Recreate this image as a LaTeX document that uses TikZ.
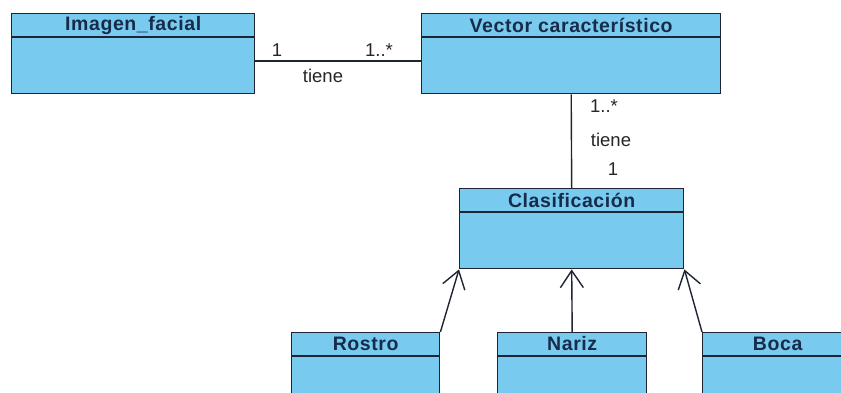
\documentclass[tikz,border=0pt]{standalone}
\usepackage{fontspec}
\setmainfont{Liberation Sans}
\newfontfamily\klassfont[LetterSpace=3]{Liberation Sans}
\usetikzlibrary{arrows.meta, calc, positioning}
\definecolor{klassblau}{HTML}{78CBEF}
\definecolor{rahmen}{HTML}{1E2433}
\definecolor{titelblau}{HTML}{172B4A}

\begin{document}
\begin{tikzpicture}[
    x=1pt, y=-1pt,
    every node/.style={font=\fontsize{18.5}{20}\selectfont, text=black!85},
    klasse/.style={draw=rahmen, fill=klassblau, line width=1.4pt, rectangle,
                   anchor=north west, inner sep=0pt, minimum height=80pt},
    titel/.style={font=\klassfont\fontsize{19.5}{21}\selectfont\bfseries, text=titelblau},
    verbindung/.style={line width=1.4pt, draw=rahmen},
    erbt/.style={verbindung, -{Straight Barb[length=17pt, width=23pt]}},
  ]
  \clip (0,0) rectangle (841,392);

  % Klassen
  \node[klasse, minimum width=243pt] (img)    at (11,13)  {};
  \node[klasse, minimum width=299pt] (vec)    at (421,13) {};
  \node[klasse, minimum width=224pt] (kla)    at (459,188) {};
  \node[klasse, minimum width=148pt] (rostro) at (291,332) {};
  \node[klasse, minimum width=149pt] (nariz)  at (497,332) {};
  \node[klasse, minimum width=150pt] (boca)   at (702,332) {};

  \foreach \k in {img,vec,kla,rostro,nariz,boca}
    \draw[rahmen, line width=1.4pt] ($(\k.north west)+(0,24)$) -- ($(\k.north east)+(0,24)$);

  \node[titel] (img-t)    at ($(img.north)+(0,12)$)    {Imagen\_facial};
  \node[titel] (vec-t)    at ($(vec.north)+(0,12)$)    {Vector característico};
  \node[titel] (kla-t)    at ($(kla.north)+(0,12)$)    {Clasificación};
  \node[titel] (rostro-t) at ($(rostro.north)+(0,12)$) {Rostro};
  \node[titel] (nariz-t)  at ($(nariz.north)+(0,12)$)  {Nariz};
  \node[titel] (boca-t)   at ($(boca.north)+(0,12)$)   {Boca};

  % Assoziationen
  \draw[verbindung] ($(img.north east)+(0,48)$) -- ($(vec.north west)+(0,48)$);
  \node (m1) at (277,50) {1};
  \node (m2) at (379,50) {1..*};
  \node (r1) at (323,76) {tiene};

  \draw[verbindung] (vec.south) -- (kla.north);
  \node (m3) at (604,106) {1..*};
  \node (r2) at (611,140) {tiene};
  \node (m4) at (613,169) {1};

  % Vererbung
  \draw[erbt] (rostro.north east) -- (kla.south west);
  \draw[erbt] (nariz.north) -- (kla.south);
  \draw[erbt] (boca.north west) -- (kla.south east);
\end{tikzpicture}
\end{document}
